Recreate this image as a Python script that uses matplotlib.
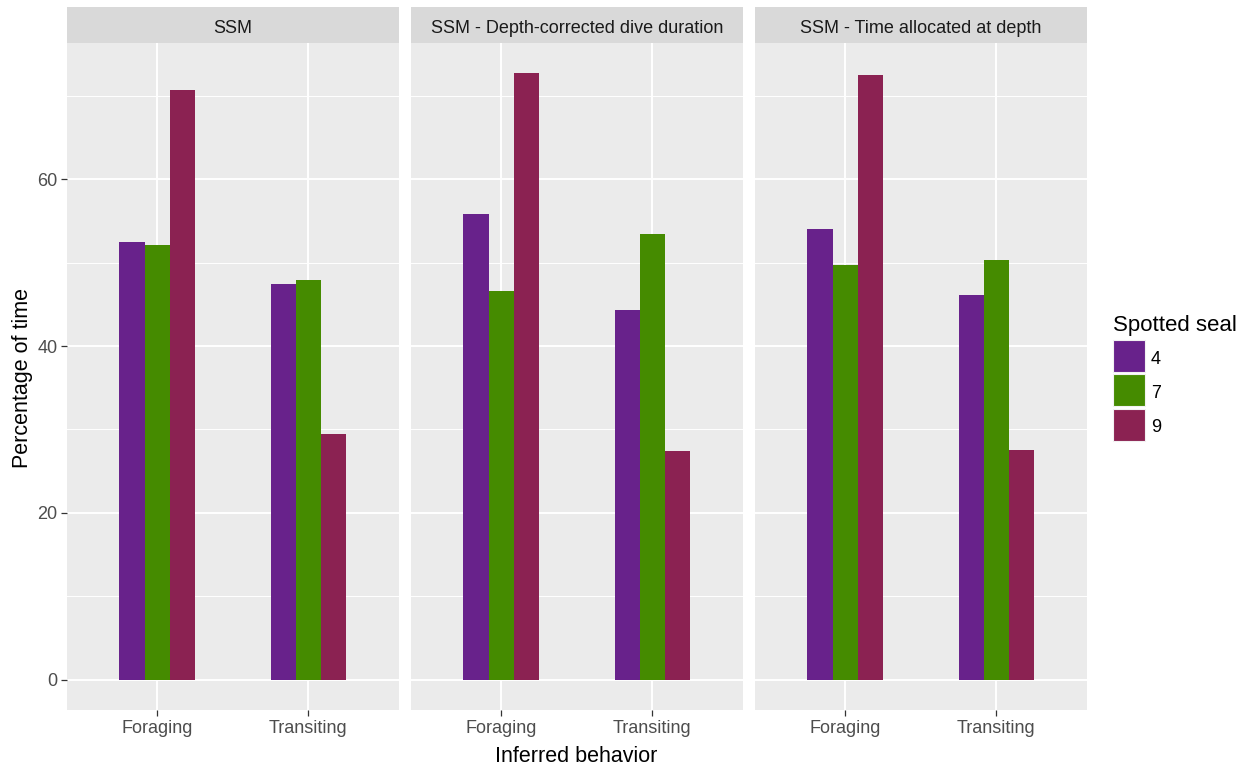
import matplotlib
matplotlib.use("Agg")
import matplotlib.pyplot as plt
from matplotlib.patches import Rectangle
import numpy as np

plt.rcParams['font.family'] = ['Liberation Sans', 'DejaVu Sans']

panels = ["SSM", "SSM - Depth-corrected dive duration", "SSM - Time allocated at depth"]
behaviors = ["Foraging", "Transiting"]
seals = ["4", "7", "9"]
colors = ["#68228B", "#458B00", "#8B2252"]

# values per panel, per seal -> [Foraging, Transiting]
ssm = {"4": [52.5, 47.5], "7": [52.1, 47.9], "9": [70.7, 29.4]}
ssm_depth_dur = {"4": [55.8, 44.3], "7": [46.6, 53.4], "9": [72.7, 27.4]}
ssm_time_depth = {"4": [54.0, 46.1], "7": [49.7, 50.3], "9": [72.5, 27.5]}
panel_data = [ssm, ssm_depth_dur, ssm_time_depth]

y_ticks = [0, 20, 40, 60]
y_minor = [10, 30, 50, 70]

W, H = 1244, 765
fig = plt.figure(figsize=(W / 100, H / 100), dpi=100)


def fx(px):
    return px / W


def fy(py):
    return (H - py) / H


lefts = [66.5, 410.5, 754.5]
pw = 332.5
ptop, pbot = 43, 710
stop = 6.7

allv = [v for d in panel_data for s in seals for v in d[s]]
vmax = max(allv)
ylim = (-0.05 * vmax, 1.05 * vmax)

bw = 0.5 / len(seals)
xc = np.arange(len(behaviors))

for i, (title, data) in enumerate(zip(panels, panel_data)):
    l = lefts[i]
    ax = fig.add_axes([fx(l), fy(pbot), pw / W, (pbot - ptop) / H])
    ax.set_facecolor("#EBEBEB")
    for s in ax.spines.values():
        s.set_visible(False)
    for yv in y_minor:
        ax.axhline(yv, color="white", lw=0.7, zorder=0)
    for yv in y_ticks:
        ax.axhline(yv, color="white", lw=1.4, zorder=0.5)
    for xv in xc:
        ax.axvline(xv, color="white", lw=1.4, zorder=0.5)
    for k, s in enumerate(seals):
        ax.bar(xc + (k - 1) * bw, data[s], width=bw, color=colors[k],
               linewidth=0, zorder=2)
    ax.set_xlim(-0.6, len(behaviors) - 0.4)
    ax.set_ylim(*ylim)
    ax.set_xticks(xc)
    ax.set_xticklabels(behaviors)
    ax.set_yticks(y_ticks)
    ax.tick_params(axis="both", colors="#333333", labelcolor="#4D4D4D",
                   labelsize=13, length=4, width=0.9)
    ax.tick_params(axis="x", pad=3)
    ax.tick_params(axis="y", pad=2.5)
    if i == 0:
        ax.set_yticklabels([str(t) for t in y_ticks])
    else:
        ax.tick_params(axis="y", left=False, labelleft=False)

    sax = fig.add_axes([fx(l), fy(ptop), pw / W, (ptop - stop) / H])
    sax.set_facecolor("#D9D9D9")
    sax.set_xticks([]); sax.set_yticks([])
    for s in sax.spines.values():
        s.set_visible(False)
    fig.text(fx(l + pw / 2), fy(33.3), title, ha="center", va="baseline",
             fontsize=13, color="#1A1A1A")

fig.text(fx(576.5), fy(762), "Inferred behavior", ha="center", va="baseline",
         fontsize=15.5, color="black")
fig.text(fx(23), fy(378), "Percentage of time", ha="center", va="center",
         rotation=90, fontsize=15.5, color="black")

# legend
fig.text(fx(1113), fy(330.5), "Spotted seal", ha="left", va="baseline",
         fontsize=16, color="black")
key_tops = [339.5, 374, 408.5]
for lab, c, kt in zip(seals, colors, key_tops):
    fig.add_artist(Rectangle((fx(1113), fy(kt + 32)), 32 / W, 32 / H,
                             transform=fig.transFigure, facecolor=c,
                             edgecolor="#F2F2F2", linewidth=0.8))
    fig.text(fx(1151), fy(kt + 16 + 3.5), lab, ha="left", va="center",
             fontsize=13, color="black")

fig.savefig("out.png", dpi=100)
